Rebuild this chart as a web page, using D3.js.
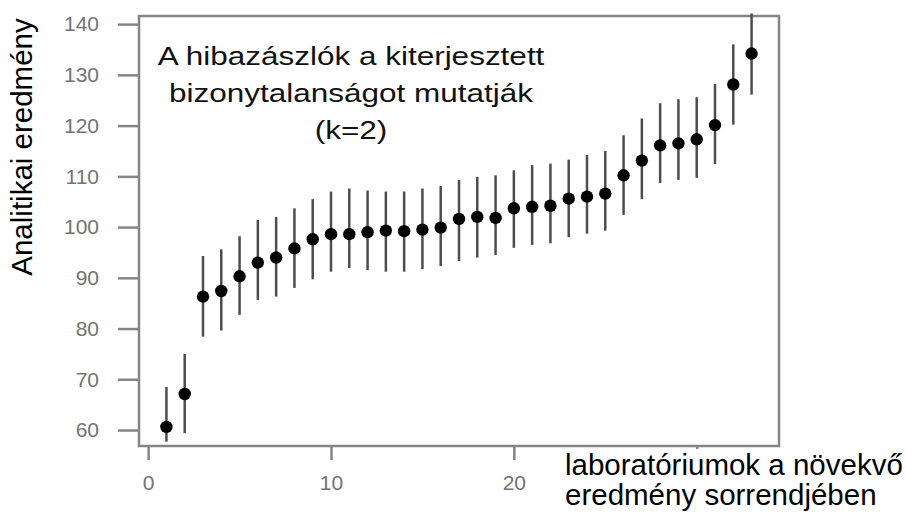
<!DOCTYPE html>
<html lang="hu">
    <head>
        <meta charset="UTF-8">
        <title>Laboratóriumok eredményei</title>
        <script src="https://cdn.jsdelivr.net/npm/d3@7"></script>
        <style>
            body { margin: 0; background: #fff; }
            svg { display: block; font-family: "Liberation Sans", Arial, sans-serif; }
            .axis path, .axis line { stroke: #858585; stroke-width: 2.5px; }
            .axis text { fill: #737373; font-size: 21px; font-family: "Liberation Sans", Arial, sans-serif; }
            .errbars line { stroke: #4d4d4d; stroke-width: 2.5px; }
            .dots circle { fill: #000; }
        </style>
    </head>
    <body>
        <svg width="906" height="513"></svg>
        <script>
            // laboratory rank 1..33, result and error bar ends (k=2)
            var labs = d3.range(1, 34);
            var values = [60.6, 67.1, 86.3, 87.4, 90.3, 93.0, 94.0, 95.8, 97.6, 98.6,
                          98.6, 99.0, 99.3, 99.2, 99.5, 99.9, 101.6, 102.0, 101.8, 103.7,
                          104.0, 104.2, 105.6, 106.0, 106.6, 110.2, 113.1, 116.1, 116.5, 117.3,
                          120.1, 128.1, 134.2];
            var lower = [57.7, 59.4, 78.4, 79.6, 82.7, 85.6, 86.3, 88.0, 89.7, 91.2,
                         91.9, 91.5, 91.2, 91.2, 91.7, 92.3, 93.3, 94.0, 94.5, 95.9,
                         96.5, 96.8, 98.0, 98.7, 99.3, 102.4, 105.5, 108.7, 109.3, 109.7,
                         112.4, 120.2, 126.1];
            var upper = [68.5, 75.0, 94.3, 95.6, 98.2, 101.4, 102.0, 103.7, 105.5, 107.0,
                         107.6, 107.2, 107.0, 107.0, 107.6, 108.1, 109.3, 109.9, 110.2, 111.2,
                         112.2, 112.5, 113.3, 114.2, 115.0, 118.1, 121.4, 124.4, 125.2, 125.6,
                         128.2, 136.0, 142.1];
            var xTicks = [0, 10, 20, 30];
            var yTicks = [60, 70, 80, 90, 100, 110, 120, 130, 140];
            var noteLines = ["A hibazászlók a kiterjesztett", "bizonytalanságot mutatják", "(k=2)"];
            var xTitle = ["laboratóriumok a növekvő", "eredmény sorrendjében"];
            var yTitle = "Analitikai eredmény";

            var svg = d3.select("svg");
            var plotLeft = 139, plotRight = 779, plotTop = 16, plotBottom = 446;

            var x = d3.scaleLinear().domain([-0.5, 34.5]).range([plotLeft, plotRight]);
            var y = d3.scaleLinear().domain([56.85, 141.6]).range([plotBottom, plotTop]);

            var data = labs.map(function(d, i) {
                return {lab: d, v: values[i], lo: lower[i], hi: upper[i]};
            });

            svg.append("g")
                .attr("class", "axis")
                .attr("transform", "translate(" + plotLeft + ",0)")
                .call(d3.axisLeft(y).tickValues(yTicks).tickSize(21).tickPadding(19))
                .call(function(g) { g.select(".domain").remove(); });

            svg.append("g")
                .attr("class", "axis")
                .attr("transform", "translate(0," + plotBottom + ")")
                .call(d3.axisBottom(x).tickValues(xTicks).tickSize(14).tickPadding(15))
                .call(function(g) {
                    g.select(".domain").remove();
                    // the 30 label sits under the x title box in the original
                    g.selectAll(".tick").filter(function(d) { return d === 30; }).select("text").remove();
                });

            svg.append("rect")
                .attr("x", plotLeft).attr("y", plotTop)
                .attr("width", plotRight - plotLeft).attr("height", plotBottom - plotTop)
                .attr("fill", "none")
                .attr("stroke", "#858585")
                .attr("stroke-width", 2.5);

            svg.append("g")
                .attr("class", "errbars")
                .selectAll("line")
                .data(data)
                .enter().append("line")
                .attr("x1", function(d) { return x(d.lab); })
                .attr("x2", function(d) { return x(d.lab); })
                .attr("y1", function(d) { return y(d.lo); })
                .attr("y2", function(d) { return y(d.hi); });

            svg.append("g")
                .attr("class", "dots")
                .selectAll("circle")
                .data(data)
                .enter().append("circle")
                .attr("cx", function(d) { return x(d.lab); })
                .attr("cy", function(d) { return y(d.v); })
                .attr("r", 6.2);

            // the note is drawn a bit wider than the font, as in the original
            svg.append("g")
                .attr("transform", "translate(351,0) scale(1.26,1)")
                .selectAll("text")
                .data(noteLines)
                .enter().append("text")
                .attr("x", 0)
                .attr("y", function(d, i) { return 65 + i * 37; })
                .attr("text-anchor", "middle")
                .attr("font-size", 25)
                .attr("fill", "#111")
                .text(function(d) { return d; });

            // white box behind the x title hides the last tick
            svg.append("rect")
                .attr("x", 562).attr("y", 449)
                .attr("width", 344).attr("height", 64)
                .attr("fill", "#fff");

            svg.append("g")
                .selectAll("text")
                .data(xTitle)
                .enter().append("text")
                .attr("x", 565)
                .attr("y", function(d, i) { return 475 + i * 30; })
                .attr("font-size", 29.5)
                .attr("fill", "#000")
                .text(function(d) { return d; });

            svg.append("text")
                .attr("transform", "translate(32,147) rotate(-90)")
                .attr("text-anchor", "middle")
                .attr("font-size", 29.5)
                .attr("fill", "#000")
                .text(yTitle);
        </script>
    </body>
</html>
